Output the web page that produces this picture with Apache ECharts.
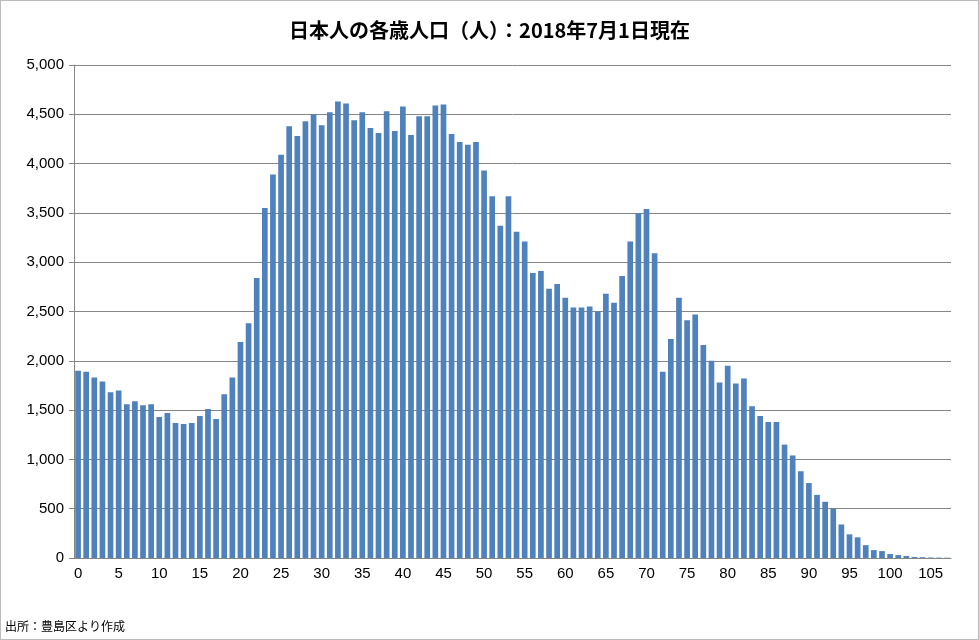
<!DOCTYPE html>
<html><head><meta charset="utf-8">
<script src="https://cdn.jsdelivr.net/npm/echarts@6/dist/echarts.min.js"></script>
<style>html,body{margin:0;padding:0;background:#fff}#c{width:979px;height:640px;box-sizing:border-box;border:1px solid #bbb}</style>
</head><body><div id="c"></div>
<script>
const ages = Array.from({length:108},(_,i)=>String(i));
const population = [1900,1890,1830,1790,1680,1700,1560,1590,1550,1560,1430,1470,1370,1360,1370,1440,1510,1410,1660,1830,
2190,2380,2840,3550,3890,4090,4380,4280,4430,4500,4390,4520,4630,4610,4440,4520,4360,4310,4530,4330,
4580,4290,4480,4480,4590,4600,4300,4220,4190,4220,3930,3670,3370,3670,3310,3210,2890,2910,2730,2780,
2640,2540,2540,2550,2500,2680,2590,2860,3210,3500,3540,3090,1890,2220,2640,2410,2470,2160,2000,1780,
1950,1770,1820,1540,1440,1380,1380,1150,1040,880,760,640,570,500,340,240,210,130,80,70,
40,30,20,10,8,5,4,3];
const titleText = '日本人の各歳人口（人）：2018年7月1日現在';
const sourceText = '出所：豊島区より作成';
const chart = echarts.init(document.getElementById('c'));
chart.setOption({
  animation:false,
  title:{text:titleText,left:'center',top:14,textStyle:{fontFamily:'Noto Sans CJK JP',fontSize:20,fontWeight:'bold',color:'#000'}},
  graphic:[{type:'text',left:4,top:619,style:{text:sourceText,font:'12px "Noto Sans CJK JP"',fill:'#000'}}],
  grid:{left:73,right:27,top:64,bottom:81},
  xAxis:{type:'category',data:ages,boundaryGap:true,
    axisLine:{lineStyle:{color:'#868686'}},
    axisTick:{interval:4,alignWithLabel:false,lineStyle:{color:'#868686'}},
    axisLabel:{interval:4,color:'#000',fontSize:15,fontFamily:'Liberation Sans',margin:8}},
  yAxis:{type:'value',min:0,max:5000,interval:500,
    axisLine:{show:true,lineStyle:{color:'#868686'}},
    axisTick:{show:true,length:5,lineStyle:{color:'#868686'}},
    splitLine:{lineStyle:{color:'#868686'}},
    axisLabel:{color:'#000',fontSize:15,fontFamily:'Liberation Sans',margin:10}},
  series:[{type:'bar',data:population,barCategoryGap:'30%',itemStyle:{color:'#4f81bd'}}]
});
</script></body></html>
